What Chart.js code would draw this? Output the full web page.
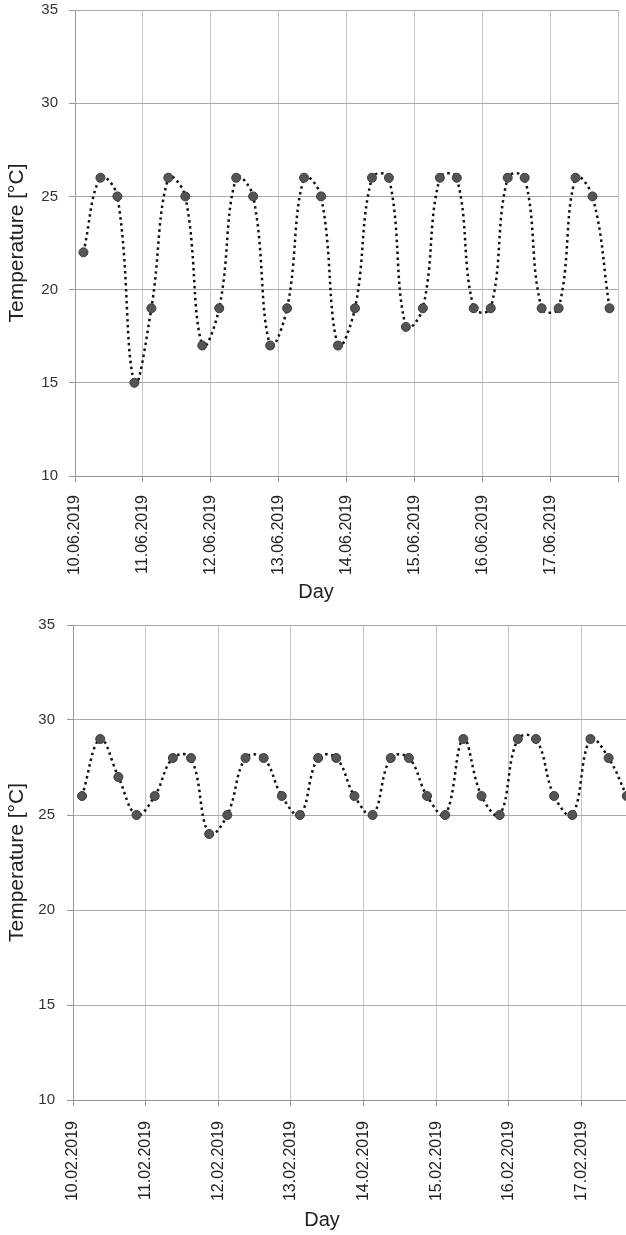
<!DOCTYPE html>
<html>
<head>
<meta charset="utf-8">
<script src="https://cdn.jsdelivr.net/npm/chart.js@4"></script>
<style>
    html, body { margin: 0; padding: 0; background: #fff; }
    body { width: 626px; height: 1235px; overflow: hidden; }
    .box { position: relative; width: 626px; overflow: hidden; }
    canvas { display: block; }
</style>
</head>
<body>
<div class="box" style="height:610px"><canvas id="juneChart" width="626" height="610"></canvas></div>
<div class="box" style="height:625px"><canvas id="febChart" width="662" height="625"></canvas></div>
<script>
// readings every 6 hours, starting 03:00 each day
const hours = [3, 9, 15, 21];

const juneDays = ['10.06.2019', '11.06.2019', '12.06.2019', '13.06.2019',
    '14.06.2019', '15.06.2019', '16.06.2019', '17.06.2019'];
const juneTemps = [22, 26, 25, 15, 19, 26, 25, 17, 19, 26, 25, 17, 19, 26, 25, 17,
    19, 26, 26, 18, 19, 26, 26, 19, 19, 26, 26, 19, 19, 26, 25, 19];

const febDays = ['10.02.2019', '11.02.2019', '12.02.2019', '13.02.2019',
    '14.02.2019', '15.02.2019', '16.02.2019', '17.02.2019'];
const febTemps = [26, 29, 27, 25, 26, 28, 28, 24, 25, 28, 28, 26, 25, 28, 28, 26,
    25, 28, 28, 26, 25, 29, 26, 25, 29, 29, 26, 25, 29, 28, 26];

const yTicks = [10, 15, 20, 25, 30, 35];

function toPoints(temps) {
    return temps.map(function (t, i) {
        return { x: Math.floor(i / hours.length) + hours[i % hours.length] / 24, y: t };
    });
}

// x axis title is centred on the whole chart (like excel), not on the plot area
const dayTitle = {
    id: 'dayTitle',
    afterDraw: function (chart, args, opts) {
        const ctx = chart.ctx;
        ctx.save();
        ctx.font = '20px "Liberation Sans"';
        ctx.fillStyle = '#222';
        ctx.textAlign = 'center';
        ctx.textBaseline = 'middle';
        ctx.fillText('Day', opts.x, opts.y);
        ctx.restore();
    }
};

function makeConfig(days, temps, o) {
    return {
        type: 'scatter',
        data: {
            datasets: [{
                data: toPoints(temps),
                showLine: true,
                tension: 0.4,
                borderColor: '#111',
                borderWidth: 2.5,
                borderDash: [2.5, 3.5],
                pointRadius: 4.5,
                pointBackgroundColor: '#555',
                pointBorderColor: '#3a3a3a',
                pointBorderWidth: 1
            }]
        },
        plugins: [dayTitle],
        options: {
            responsive: false,
            animation: false,
            devicePixelRatio: 1,
            layout: { padding: { top: o.top, right: 8, bottom: 0, left: 0 } },
            plugins: {
                legend: { display: false },
                tooltip: { enabled: false },
                dayTitle: { x: o.titleX, y: o.titleY }
            },
            scales: {
                x: {
                    type: 'linear',
                    min: 0,
                    max: days.length,
                    afterFit: function (s) {
                        s.height = o.xHeight;
                        s.paddingLeft = 0;
                        s.paddingRight = 0;
                    },
                    grid: { color: '#c4c4c4', tickColor: '#999', tickLength: 6 },
                    border: { color: '#909090' },
                    ticks: {
                        stepSize: 1,
                        autoSkip: false,
                        minRotation: 90,
                        maxRotation: 90,
                        padding: o.xPad,
                        color: '#222',
                        font: { family: 'Liberation Sans', size: 16 },
                        callback: function (v) { return days[v] || ''; }
                    }
                },
                y: {
                    min: 10,
                    max: 35,
                    afterFit: function (s) {
                        s.width = o.yWidth;
                        s.paddingTop = 0;
                        s.paddingBottom = 0;
                    },
                    afterBuildTicks: function (s) { s.ticks = yTicks.map(function (v) { return { value: v }; }); },
                    grid: { color: '#a8a8a8', tickColor: '#999', tickLength: 6 },
                    border: { color: '#999' },
                    ticks: {
                        padding: o.yPad,
                        color: '#333',
                        font: { family: 'Liberation Sans', size: 15 }
                    },
                    title: {
                        display: true,
                        text: 'Temperature [°C]',
                        color: '#222',
                        padding: { top: 5, bottom: 0 },
                        font: { family: 'Liberation Sans', size: 21 }
                    }
                }
            }
        }
    };
}

new Chart(document.getElementById('juneChart'),
    makeConfig(juneDays, juneTemps, { top: 10, xHeight: 134, xPad: 13, yWidth: 75, yPad: 11, titleX: 316, titleY: 592 }));

new Chart(document.getElementById('febChart'),
    makeConfig(febDays, febTemps, { top: 15, xHeight: 135, xPad: 15, yWidth: 73, yPad: 12, titleX: 322, titleY: 610 }));
</script>
</body>
</html>
